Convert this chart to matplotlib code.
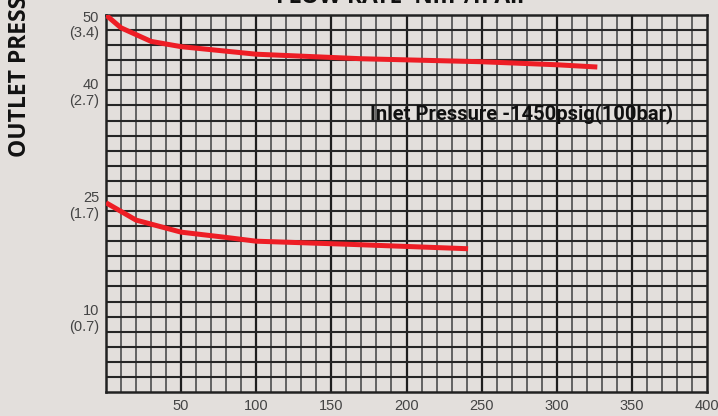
import matplotlib.pyplot as plt
import matplotlib.transforms as mtransforms
import numpy as np

# flow rate (Nm3/h air) vs outlet pressure (psig)
flow_upper = [0, 10, 30, 50, 100, 170, 250, 300, 327]
press_upper = [50, 48.3, 46.5, 45.8, 44.8, 44.2, 43.8, 43.4, 43.1]

flow_lower = [0, 20, 50, 80, 100, 160, 241]
press_lower = [25.1, 22.8, 21.2, 20.5, 20.0, 19.6, 19.0]

x_ticks = [50, 100, 150, 200, 250, 300, 350, 400]
y_ticks = [10, 25, 40, 50]
y_tick_labels = ["10\n(0.7)", "25\n(1.7)", "40\n(2.7)", "50\n(3.4)"]

bg = "#e3dfdc"
red = "#ee1d25"

fig = plt.figure(figsize=(7.18, 4.16), dpi=100, facecolor=bg)
ax = fig.add_axes([106 / 718, 1 - 392 / 416, 601 / 718, 377 / 416])
ax.set_facecolor(bg)
ax.set_xlim(0, 400)
ax.set_ylim(0, 50)

# grid
for x in np.arange(10, 400, 10):
    major = x % 50 == 0
    ax.axvline(x, color="#1e1e1e" if major else "#626262",
               lw=1.6 if major else 1.4, zorder=1)
for y in np.arange(2, 50, 2):
    ax.axhline(y, color="#262626", lw=1.5, zorder=1)

for s in ax.spines.values():
    s.set_color("#222222")
    s.set_linewidth(1.8)

ax.plot(flow_upper, press_upper, color=red, lw=3.6, solid_capstyle="butt", zorder=3)
ax.plot(flow_lower, press_lower, color=red, lw=3.6, solid_capstyle="butt", zorder=3)

ax.set_xticks(x_ticks)
ax.set_xticklabels([str(v) for v in x_ticks])
ax.set_yticks(y_ticks)
ax.set_yticklabels(y_tick_labels, linespacing=1.15)
ax.tick_params(length=0, labelsize=10.5, labelcolor="#444444", pad=5)
for lab in ax.get_xticklabels() + ax.get_yticklabels():
    lab.set_family("Liberation Sans")
top_lab = ax.get_yticklabels()[-1]
top_lab.set_transform(top_lab.get_transform() +
                      mtransforms.ScaledTranslation(0, -8 / 100, fig.dpi_scale_trans))

ax.text(370 / 718, 1 - 119 / 416, "Inlet Pressure -1450psig(100bar)",
        transform=fig.transFigure, fontsize=14.5, fontweight="bold",
        family=["Roboto", "DejaVu Sans"], color="#111111",
        ha="left", va="baseline", zorder=4)

fig.text(402 / 718, 1 - 3 / 416, "FLOW RATE  Nm\u00b3/h Air", fontsize=16.5,
         fontweight="bold", family=["Open Sans", "DejaVu Sans"],
         ha="center", va="baseline", color="#111111")
fig.text(20 / 718, 1 - 157 / 416, "OUTLET PRESSURE psig(bar)", fontsize=16.5,
         fontweight="bold", family=["Open Sans", "DejaVu Sans"], rotation=90,
         ha="center", va="bottom", color="#111111")

fig.savefig("out.png", dpi=100, facecolor=bg)
